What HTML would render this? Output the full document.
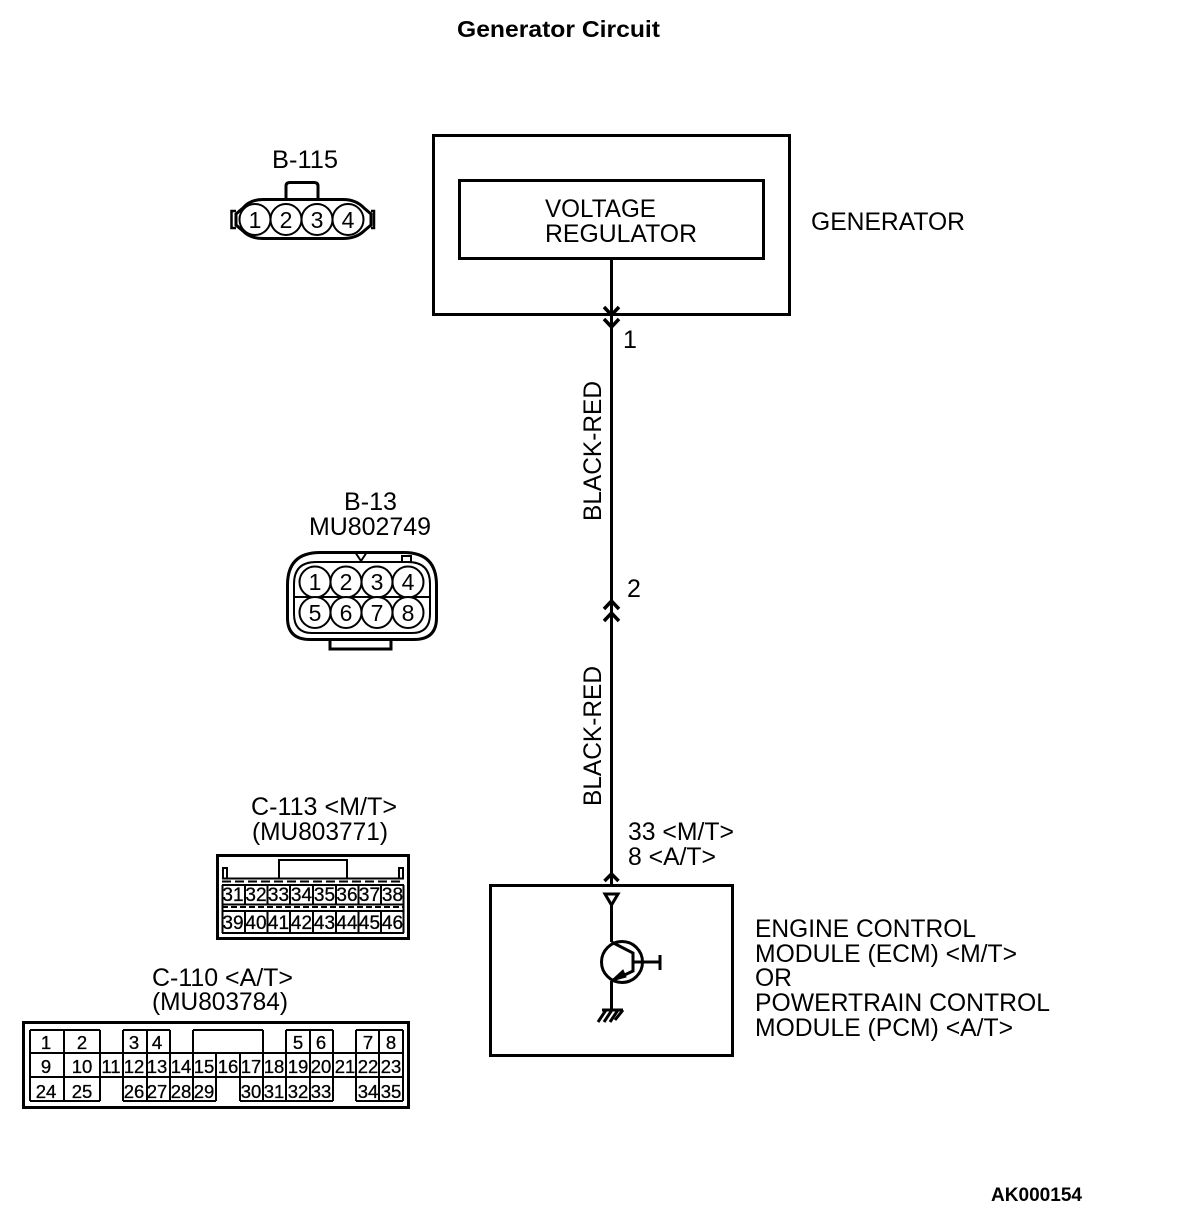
<!DOCTYPE html>
<html>
<head>
<meta charset="utf-8">
<style>
html,body{margin:0;padding:0;background:#fff;width:1200px;height:1216px;overflow:hidden}
svg{display:block}
text{font-family:"Liberation Sans",sans-serif;fill:#000}
.l{font-size:25px}
.c{font-size:23px;text-anchor:middle}
.g{font-size:19px;text-anchor:middle;stroke:#000;stroke-width:.3}
.h{font-size:18.5px;text-anchor:middle;stroke:#000;stroke-width:.3}
.b{font-weight:bold;font-size:23px}
.s{fill:none;stroke:#000}
</style>
</head>
<body>
<svg width="1200" height="1216" viewBox="0 0 1200 1216" xmlns="http://www.w3.org/2000/svg">
<rect width="1200" height="1216" fill="#fff"/>

<text class="b" x="457" y="37" textLength="203" lengthAdjust="spacingAndGlyphs">Generator Circuit</text>
<text class="b" x="991" y="1201" style="font-size:19px" textLength="91" lengthAdjust="spacingAndGlyphs">AK000154</text>

<!-- Generator -->
<rect class="s" stroke-width="3" x="433.500" y="135.500" width="356" height="179"/>
<rect class="s" stroke-width="3" x="459.500" y="180.500" width="304" height="78"/>
<text class="l" x="545" y="217" textLength="111" lengthAdjust="spacingAndGlyphs">VOLTAGE</text>
<text class="l" x="545" y="242" textLength="152" lengthAdjust="spacingAndGlyphs">REGULATOR</text>
<text class="l" x="811" y="230" textLength="154" lengthAdjust="spacingAndGlyphs">GENERATOR</text>

<!-- Wire -->
<path class="s" stroke-width="3" d="M611.500 258V884"/>
<path class="s" stroke-width="3.500" d="M604 307L611.500 315L619 307M604 319L611.500 327L619 319"/>
<path class="s" stroke-width="3.500" d="M604 609L611.500 601L619 609M604 621L611.500 613L619 621"/>
<path class="s" stroke-width="3.500" d="M604.500 881L611.500 874L618.500 881"/>
<text class="l" x="623" y="348">1</text>
<text class="l" x="627" y="597">2</text>
<text class="l" transform="translate(601,521) rotate(-90)" textLength="140" lengthAdjust="spacingAndGlyphs">BLACK-RED</text>
<text class="l" transform="translate(601,806) rotate(-90)" textLength="140" lengthAdjust="spacingAndGlyphs">BLACK-RED</text>
<text class="l" x="628" y="840" textLength="106" lengthAdjust="spacingAndGlyphs">33 &lt;M/T&gt;</text>
<text class="l" x="628" y="865" textLength="88" lengthAdjust="spacingAndGlyphs">8 &lt;A/T&gt;</text>

<!-- ECM -->
<rect class="s" stroke-width="3" x="490.500" y="885.500" width="242" height="170"/>
<path class="s" stroke-width="3" d="M605 894H618L611.500 905ZM611.500 905V942M611.500 981V1010"/>
<circle class="s" stroke-width="3" cx="622" cy="962" r="20.500"/>
<path class="s" stroke-width="3" d="M611.500 942L633 953V971L611.500 981M633 962H660M660 955V970"/>
<path d="M611 981L623 970L626 977Z" fill="#000" stroke="#000" stroke-width="1"/>
<path class="s" stroke-width="3" d="M602 1010H623M606 1010L598 1022M612 1010L604 1022M618 1010L610 1022M623 1010L615 1020"/>

<text class="l" x="755" y="937" textLength="221" lengthAdjust="spacingAndGlyphs">ENGINE CONTROL</text>
<text class="l" x="755" y="962" textLength="262" lengthAdjust="spacingAndGlyphs">MODULE (ECM) &lt;M/T&gt;</text>
<text class="l" x="755" y="986" textLength="37" lengthAdjust="spacingAndGlyphs">OR</text>
<text class="l" x="755" y="1011" textLength="295" lengthAdjust="spacingAndGlyphs">POWERTRAIN CONTROL</text>
<text class="l" x="755" y="1036" textLength="258" lengthAdjust="spacingAndGlyphs">MODULE (PCM) &lt;A/T&gt;</text>

<!-- B-115 -->
<text class="l" x="272" y="168" textLength="66" lengthAdjust="spacingAndGlyphs">B-115</text>
<path class="s" stroke-width="3" d="M286 199V186Q286 182.500 290 182.500H314Q318 182.500 318 186V199"/>
<path class="s" stroke-width="3" d="M263 199.500H343Q356 199.500 364 208L371 214V225L364 231Q356 238.500 343 238.500H263Q250 238.500 243 231L236 225V214L243 208Q250 199.500 263 199.500Z"/>
<path class="s" stroke-width="2.500" d="M236 211H231.500V228H236M371 211H374V228H371"/>
<g fill="#fff" stroke="#000" stroke-width="2">
<circle cx="255" cy="219.500" r="15.500"/><circle cx="286" cy="219.500" r="15.500"/><circle cx="317" cy="219.500" r="15.500"/><circle cx="348" cy="219.500" r="15.500"/>
</g>
<g>
<text class="c" x="255" y="228">1</text><text class="c" x="286" y="228">2</text><text class="c" x="317" y="228">3</text><text class="c" x="348" y="228">4</text>
</g>

<!-- B-13 -->
<text class="l" x="344" y="510" textLength="53" lengthAdjust="spacingAndGlyphs">B-13</text>
<text class="l" x="309" y="535" textLength="122" lengthAdjust="spacingAndGlyphs">MU802749</text>
<path class="s" stroke-width="3" d="M320 552.500H404Q436.500 552.500 436.500 585V618Q436.500 639.500 414 639.500H310Q287.500 639.500 287.500 618V585Q287.500 552.500 320 552.500Z"/>
<path class="s" stroke-width="2" d="M316 562H408Q430 562 430 584V614Q430 633 412 633H312Q294 633 294 614V584Q294 562 316 562Z"/>
<path class="s" stroke-width="3" d="M330 639V649H391V639"/>
<path class="s" stroke-width="2" d="M355 552L361 561L367 552M402 562V556H411V562M294 597H430"/>
<g fill="#fff" stroke="#000" stroke-width="2">
<circle cx="315" cy="582" r="15.500"/><circle cx="346" cy="582" r="15.500"/><circle cx="377" cy="582" r="15.500"/><circle cx="408" cy="582" r="15.500"/>
<circle cx="315" cy="612.500" r="15.500"/><circle cx="346" cy="612.500" r="15.500"/><circle cx="377" cy="612.500" r="15.500"/><circle cx="408" cy="612.500" r="15.500"/>
</g>
<g>
<text class="c" x="315" y="590">1</text><text class="c" x="346" y="590">2</text><text class="c" x="377" y="590">3</text><text class="c" x="408" y="590">4</text>
<text class="c" x="315" y="621">5</text><text class="c" x="346" y="621">6</text><text class="c" x="377" y="621">7</text><text class="c" x="408" y="621">8</text>
</g>

<!-- C-113 -->
<text class="l" x="251" y="815" textLength="146" lengthAdjust="spacingAndGlyphs">C-113 &lt;M/T&gt;</text>
<text class="l" x="252" y="840" textLength="136" lengthAdjust="spacingAndGlyphs">(MU803771)</text>
<rect class="s" stroke-width="3" x="217.500" y="855.500" width="191" height="83"/>
<path class="s" stroke-width="2" d="M223 879V868H227V879M399 879V868H403V879M279 878V860H347V878"/>
<path class="s" stroke-width="2" d="M222 878.500H404"/>
<path class="s" stroke-width="2" stroke-dasharray="9 4" d="M222 881.500H404"/>
<path class="s" stroke-width="2" d="M222 885H404"/>
<path class="s" stroke-width="2" stroke-dasharray="6 3" d="M222 907H404"/>
<path class="s" stroke-width="2" d="M222 904.500H404M222 911H404M222 933H404"/>
<path class="s" stroke-width="2" d="M222.500 885V933M245 885V905M245 911V933M267.500 885V905M267.500 911V933M290 885V905M290 911V933M313 885V905M313 911V933M336 885V905M336 911V933M358.500 885V905M358.500 911V933M381 885V905M381 911V933M403.500 885V933"/>
<g>
<text class="g" x="233" y="901">31</text><text class="g" x="256" y="901">32</text><text class="g" x="278.500" y="901">33</text><text class="g" x="301.500" y="901">34</text><text class="g" x="324.500" y="901">35</text><text class="g" x="347" y="901">36</text><text class="g" x="369.500" y="901">37</text><text class="g" x="392.500" y="901">38</text>
<text class="g" x="233" y="929">39</text><text class="g" x="256" y="929">40</text><text class="g" x="278.500" y="929">41</text><text class="g" x="301.500" y="929">42</text><text class="g" x="324.500" y="929">43</text><text class="g" x="347" y="929">44</text><text class="g" x="369.500" y="929">45</text><text class="g" x="392.500" y="929">46</text>
</g>

<!-- C-110 -->
<text class="l" x="152" y="986" textLength="141" lengthAdjust="spacingAndGlyphs">C-110 &lt;A/T&gt;</text>
<text class="l" x="152" y="1010" textLength="136" lengthAdjust="spacingAndGlyphs">(MU803784)</text>
<rect class="s" stroke-width="3" x="23.500" y="1022.500" width="385" height="85"/>
<path class="s" stroke-width="2" d="M30 1030H100M123 1030H170M193 1030H263M286 1030H333M356 1030H403"/>
<path class="s" stroke-width="2" d="M30 1053H403M30 1077H403"/>
<path class="s" stroke-width="2" d="M30 1101H100M123 1101H216M240 1101H333M356 1101H403"/>
<path class="s" stroke-width="2" d="M30 1030V1101M64 1030V1101M100 1030V1101M123 1030V1101M147 1030V1101M170 1030V1101M193 1030V1101M216 1053V1101M240 1053V1101M263 1030V1101M286 1030V1101M310 1030V1101M333 1030V1101M356 1030V1101M379 1030V1101M403 1030V1101"/>
<g>
<text class="h" x="46" y="1049">1</text><text class="h" x="82" y="1049">2</text><text class="h" x="134" y="1049">3</text><text class="h" x="157" y="1049">4</text><text class="h" x="298" y="1049">5</text><text class="h" x="321" y="1049">6</text><text class="h" x="368" y="1049">7</text><text class="h" x="391" y="1049">8</text>
<text class="h" x="46" y="1073">9</text><text class="h" x="82" y="1073">10</text><text class="h" x="111" y="1073">11</text><text class="h" x="134" y="1073">12</text><text class="h" x="157" y="1073">13</text><text class="h" x="181" y="1073">14</text><text class="h" x="204" y="1073">15</text><text class="h" x="228" y="1073">16</text><text class="h" x="251" y="1073">17</text><text class="h" x="274" y="1073">18</text><text class="h" x="298" y="1073">19</text><text class="h" x="321" y="1073">20</text><text class="h" x="345" y="1073">21</text><text class="h" x="368" y="1073">22</text><text class="h" x="391" y="1073">23</text>
<text class="h" x="46" y="1098">24</text><text class="h" x="82" y="1098">25</text><text class="h" x="134" y="1098">26</text><text class="h" x="157" y="1098">27</text><text class="h" x="181" y="1098">28</text><text class="h" x="204" y="1098">29</text><text class="h" x="251" y="1098">30</text><text class="h" x="274" y="1098">31</text><text class="h" x="298" y="1098">32</text><text class="h" x="321" y="1098">33</text><text class="h" x="368" y="1098">34</text><text class="h" x="391" y="1098">35</text>
</g>
</svg>
</body>
</html>
